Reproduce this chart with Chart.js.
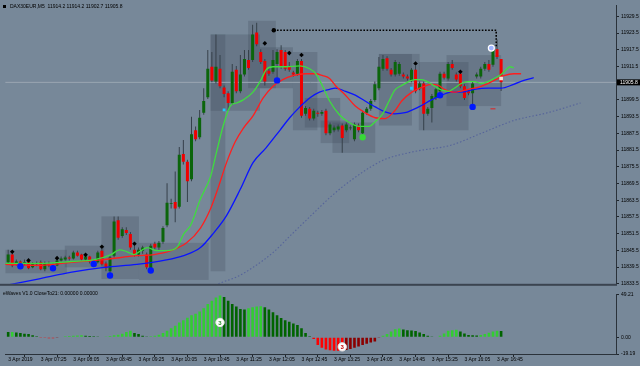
<!DOCTYPE html>
<html>
<head>
<meta charset="utf-8">
<script src="https://cdn.jsdelivr.net/npm/chart.js@4.4.1/dist/chart.umd.min.js"></script>
<style>
  html, body { margin: 0; padding: 0; background: #778899; }
  #wrap { position: relative; width: 640px; height: 366px; overflow: hidden; background: #778899; }
  canvas { position: absolute; left: 0; }
  #main { top: 0; }
  #sub { top: 289px; }
</style>
</head>
<body>
<div id="wrap">
  <canvas id="main" width="640" height="289"></canvas>
  <canvas id="sub" width="640" height="77"></canvas>
</div>
<script>
// DAX30EUR M5, 3 Apr 2019, one entry per bar from 06:45
const symbol = 'DAX30EUR,M5';
const opens = [11841.2, 11844.0, 11840.5, 11841.5, 11840.8, 11841.5, 11839.4, 11840.8, 11841.2, 11838.7,
  11840.8, 11840.1, 11840.1, 11841.9, 11842.2, 11842.9, 11842.6, 11844.7, 11844.0, 11842.2,
  11843.3, 11841.5, 11841.2, 11845.4, 11840.8, 11838.0, 11843.6, 11856.3, 11850.7, 11852.8,
  11851.4, 11845.7, 11844.0, 11845.4, 11844.0, 11838.7, 11847.9, 11846.5, 11848.6, 11854.5,
  11862.1, 11862.9, 11861.2, 11880.1, 11877.3, 11871.0, 11888.6, 11886.1, 11894.9, 11900.5,
  11911.4, 11906.1, 11910.7, 11904.0, 11901.9, 11898.4, 11910.3, 11902.6, 11908.6, 11913.8,
  11913.8, 11923.7, 11916.7, 11913.5, 11910.0, 11909.6, 11912.4, 11917.4, 11916.7, 11911.4,
  11909.3, 11908.9, 11913.5, 11894.5, 11896.3, 11892.8, 11894.9, 11894.5, 11895.6, 11887.5,
  11888.6, 11888.9, 11890.3, 11888.6, 11889.3, 11885.4, 11890.3, 11887.5, 11894.9, 11896.3,
  11899.5, 11903.7, 11910.7, 11914.5, 11910.3, 11908.6, 11908.9, 11908.6, 11907.9, 11906.5,
  11910.3, 11903.7, 11905.4, 11894.5, 11896.6, 11900.2, 11902.6, 11908.9, 11907.2, 11912.4,
  11908.6, 11908.9, 11904.4, 11902.6, 11901.9, 11907.9, 11907.9, 11910.7, 11912.4, 11912.1,
  11917.7, 11914.2];
const highs = [11845.7, 11844.7, 11842.2, 11841.9, 11842.2, 11841.7, 11841.2, 11841.5, 11841.9, 11841.5,
  11841.5, 11840.8, 11842.2, 11843.3, 11843.6, 11843.6, 11845.4, 11845.4, 11844.3, 11843.6,
  11843.6, 11842.2, 11845.4, 11846.1, 11841.5, 11843.6, 11857.7, 11857.7, 11853.8, 11853.8,
  11852.1, 11847.2, 11846.5, 11847.2, 11844.7, 11847.9, 11848.6, 11848.9, 11854.2, 11869.6,
  11864.0, 11873.8, 11882.6, 11885.1, 11878.0, 11893.5, 11890.0, 11895.9, 11903.7, 11917.4,
  11916.7, 11923.0, 11915.6, 11904.7, 11902.6, 11912.4, 11911.7, 11915.6, 11917.4, 11917.4,
  11926.5, 11927.2, 11917.7, 11914.2, 11911.0, 11917.4, 11917.7, 11919.1, 11917.4, 11913.1,
  11910.0, 11914.2, 11914.2, 11897.3, 11897.0, 11896.3, 11895.6, 11895.9, 11896.3, 11891.4,
  11890.3, 11890.7, 11891.0, 11891.4, 11890.3, 11891.4, 11891.0, 11895.6, 11897.0, 11899.8,
  11906.1, 11914.9, 11915.6, 11915.2, 11911.0, 11913.8, 11913.1, 11909.3, 11908.6, 11911.0,
  11911.7, 11906.1, 11906.1, 11897.0, 11901.6, 11904.0, 11909.6, 11909.6, 11913.1, 11913.8,
  11909.3, 11909.6, 11905.1, 11903.3, 11906.1, 11909.3, 11911.4, 11913.1, 11913.8, 11918.4,
  11921.2, 11914.2];
const lows = [11840.5, 11839.4, 11840.1, 11840.1, 11840.1, 11838.7, 11839.1, 11839.8, 11838.4, 11838.0,
  11839.4, 11839.1, 11839.8, 11841.5, 11841.9, 11841.9, 11842.2, 11843.3, 11841.9, 11841.5,
  11840.8, 11840.5, 11840.8, 11840.1, 11838.0, 11837.3, 11842.9, 11849.3, 11850.0, 11851.0,
  11845.7, 11843.3, 11843.3, 11844.3, 11838.7, 11838.4, 11845.7, 11845.7, 11847.9, 11853.8,
  11860.5, 11855.6, 11860.5, 11876.3, 11862.9, 11870.3, 11884.7, 11885.4, 11894.2, 11899.8,
  11905.8, 11905.4, 11903.7, 11900.5, 11895.6, 11897.7, 11901.9, 11901.9, 11907.9, 11910.3,
  11913.1, 11918.8, 11912.4, 11904.7, 11908.2, 11908.9, 11907.5, 11910.7, 11910.0, 11909.6,
  11907.9, 11908.2, 11893.1, 11893.8, 11892.1, 11892.1, 11893.5, 11893.8, 11886.8, 11886.8,
  11887.9, 11888.2, 11880.5, 11887.9, 11888.6, 11884.7, 11887.9, 11886.8, 11894.2, 11895.6,
  11898.8, 11903.0, 11910.0, 11910.0, 11907.9, 11907.9, 11908.2, 11907.2, 11906.5, 11905.8,
  11901.9, 11903.0, 11888.6, 11893.8, 11891.4, 11899.5, 11901.9, 11906.8, 11906.5, 11910.3,
  11906.1, 11903.7, 11899.5, 11901.2, 11897.7, 11907.2, 11907.2, 11910.0, 11909.6, 11911.4,
  11914.2, 11902.7];
const closes = [11844.0, 11840.1, 11841.5, 11840.8, 11841.2, 11839.1, 11840.5, 11840.5, 11838.7, 11840.8,
  11840.1, 11839.4, 11841.9, 11842.6, 11842.9, 11842.6, 11844.7, 11843.6, 11842.2, 11843.3,
  11841.5, 11841.2, 11844.7, 11840.5, 11839.1, 11842.9, 11855.9, 11850.0, 11853.1, 11851.7,
  11846.5, 11844.0, 11845.7, 11846.5, 11839.4, 11847.2, 11846.5, 11848.2, 11853.5, 11862.6,
  11862.4, 11860.5, 11879.8, 11877.3, 11870.3, 11887.2, 11885.4, 11893.1, 11899.1, 11910.7,
  11906.5, 11911.4, 11904.4, 11901.6, 11898.4, 11909.6, 11902.6, 11908.6, 11914.2, 11911.0,
  11923.0, 11919.5, 11913.1, 11906.1, 11908.9, 11913.8, 11916.7, 11911.4, 11910.7, 11910.3,
  11908.6, 11913.5, 11893.8, 11896.6, 11892.8, 11895.6, 11894.5, 11895.2, 11887.5, 11890.7,
  11889.6, 11890.0, 11885.8, 11890.7, 11889.6, 11890.7, 11888.6, 11894.9, 11896.3, 11899.1,
  11905.1, 11911.4, 11914.2, 11910.7, 11908.6, 11913.1, 11912.4, 11907.9, 11907.2, 11910.3,
  11902.6, 11905.4, 11894.5, 11896.3, 11900.9, 11903.3, 11908.9, 11907.5, 11912.4, 11911.0,
  11906.8, 11904.4, 11900.2, 11901.9, 11905.4, 11908.6, 11910.7, 11912.4, 11910.3, 11917.4,
  11914.9, 11905.8];

// Alligator lines (shifted forward) and slow MA, read as [bar, price]
const lips = [[-0.7, 11840.8], [7.3, 11840.8], [15.6, 11841.5], [21.2, 11842.2], [25.3, 11844.0], [27.3, 11845.7],
  [29.2, 11845.0], [30.9, 11844.0], [32.6, 11845.4], [34.1, 11846.5], [36.5, 11845.4], [38.9, 11845.4],
  [41.4, 11846.5], [43.1, 11851.4], [44.8, 11854.5], [47.2, 11864.0], [49.7, 11872.1], [51.1, 11880.5],
  [52.8, 11890.3], [54.5, 11897.3], [56.0, 11898.4], [57.7, 11899.5], [60.1, 11902.3], [62.1, 11906.8],
  [63.3, 11910.3], [65.0, 11911.4], [68.2, 11911.4], [71.6, 11911.7], [74.0, 11910.7], [75.5, 11908.9],
  [77.2, 11904.4], [78.9, 11899.1], [81.3, 11894.2], [83.7, 11891.4], [86.2, 11890.0], [88.6, 11890.0],
  [90.1, 11891.7], [91.8, 11894.2], [93.5, 11899.1], [94.9, 11903.0], [96.6, 11904.7], [98.3, 11906.1],
  [99.8, 11906.8], [101.5, 11906.8], [103.2, 11905.8], [104.7, 11904.4], [106.4, 11903.0], [108.1, 11902.6],
  [109.5, 11903.7], [111.2, 11905.4], [112.9, 11906.1], [114.4, 11906.1], [116.1, 11905.4], [117.8, 11906.1],
  [119.3, 11907.2], [121.0, 11908.6], [122.2, 11910.3], [123.2, 11911.4], [124.1, 11911.0]];
const teeth = [[-0.7, 11840.5], [7.3, 11840.1], [15.6, 11841.2], [23.6, 11842.2], [31.6, 11843.6], [35.8, 11844.0],
  [39.9, 11845.4], [43.8, 11848.2], [47.2, 11853.5], [49.7, 11860.5], [51.6, 11868.2], [53.6, 11877.0],
  [55.7, 11884.4], [57.7, 11889.3], [60.1, 11893.8], [62.6, 11900.2], [65.0, 11904.4], [67.4, 11906.8],
  [69.9, 11908.2], [73.0, 11908.9], [75.5, 11908.9], [77.2, 11908.2], [78.9, 11907.2], [80.3, 11904.7],
  [82.8, 11901.2], [85.2, 11897.3], [87.6, 11894.9], [90.1, 11893.1], [92.5, 11892.8], [94.9, 11895.6],
  [96.6, 11899.1], [99.1, 11902.3], [101.5, 11904.0], [103.9, 11905.1], [105.6, 11904.7], [107.1, 11903.3],
  [109.5, 11902.3], [113.0, 11903.3], [116.1, 11904.4], [119.3, 11906.5], [121.7, 11908.2], [124.1, 11908.9],
  [125.9, 11908.9]];
const jaw = [[-0.7, 11832.9], [7.3, 11835.2], [15.6, 11837.7], [23.6, 11839.4], [31.6, 11840.5], [38.2, 11841.9],
  [43.1, 11843.6], [47.2, 11846.5], [50.4, 11851.7], [53.6, 11858.0], [57.0, 11867.5], [60.1, 11877.0],
  [63.3, 11882.3], [66.7, 11888.6], [69.1, 11893.1], [71.6, 11897.0], [74.0, 11900.2], [76.4, 11902.3],
  [78.9, 11903.3], [80.3, 11903.7], [82.8, 11902.6], [85.2, 11901.2], [87.6, 11899.1], [90.1, 11897.0],
  [92.5, 11895.2], [94.9, 11894.5], [97.4, 11894.9], [100.8, 11897.0], [103.9, 11899.5], [106.4, 11901.2],
  [108.8, 11902.3], [111.2, 11902.3], [114.4, 11903.3], [117.8, 11903.7], [121.0, 11903.7], [124.1, 11905.1],
  [126.6, 11906.5], [129.0, 11907.5]];
const slowMa = [[49.2, 11832.1], [52.8, 11834.2], [56.0, 11835.9], [60.1, 11839.4], [65.0, 11844.7],
  [69.9, 11851.7], [74.7, 11858.5], [79.6, 11865.3], [84.5, 11871.0], [91.8, 11877.7], [99.1, 11880.8],
  [108.8, 11883.3], [116.1, 11887.5], [124.1, 11892.1], [132.4, 11894.9], [140.5, 11898.4]];

// signal markers [bar, price]
const upMarks = [[1, 11845.0], [5, 11841.9], [12, 11842.7], [19, 11843.9], [23, 11846.8], [31, 11847.9],
  [63, 11919.8], [69, 11916.3], [72, 11915.6], [100, 11912.6], [111, 11909.6]];
const downDots = [[3, 11839.8], [11, 11839.1], [21, 11840.6], [25, 11836.5], [35, 11838.3],
  [66, 11906.5], [106, 11901.2], [114, 11897.0]];
const limeDots = [[87, 11886.1]];
const cyanMarks = [[53, 11895.9], [99, 11903.7]];
const whiteRing = [[118.6, 11918.1]];
const pinkMark = [[121, 11907.2]];
const redDash = [[119, 11896.3]];
const resistance = [[65.2, 11924.5], [119.8, 11924.5], [119.8, 11918.4]];

// shaded range boxes [barFrom, barTo, priceTop, priceBottom]
const rangeBoxes = [[-0.7, 14.4, 11845.7, 11837.3], [13.9, 23.6, 11847.2, 11839.4], [22.9, 32.1, 11857.7, 11835.2],
  [32.1, 49.2, 11848.2, 11834.9], [49.7, 53.3, 11923.0, 11838.0], [49.7, 61.8, 11923.0, 11895.6],
  [58.9, 65.7, 11927.9, 11903.7], [61.8, 69.9, 11918.4, 11903.7], [69.9, 75.9, 11916.7, 11888.6],
  [72.8, 81.5, 11900.2, 11889.6], [76.7, 83.7, 11892.1, 11884.0], [79.6, 90.1, 11891.4, 11880.5],
  [91.0, 101.0, 11916.0, 11905.4], [91.0, 99.1, 11916.0, 11890.3], [100.8, 113.0, 11913.1, 11888.6],
  [107.6, 121.0, 11915.6, 11897.3]];

// eWaves histogram
const waves = [5.9, 5.9, 5.5, 4.8, 4.0, 3.7, 2.2, 1.1, -0.8, -1.0,
  -1.2, -1.3, -1.0, -0.6, 1.1, 1.5, 1.8, 1.9, 2.2, 1.8,
  1.5, 1.1, 0.7, 0.6, 0.7, 1.5, 2.2, 2.9, 4.0, 5.9,
  7.4, 4.8, 3.7, 1.8, 0.7, 1.1, 1.8, 2.9, 4.8, 7.4,
  10.3, 13.2, 16.9, 19.5, 22.4, 25.0, 26.9, 29.4, 33.1, 37.9,
  41.6, 45.3, 47.8, 46.0, 41.6, 37.9, 35.0, 32.4, 31.8, 33.1,
  34.2, 35.0, 35.3, 34.2, 31.6, 28.7, 25.0, 22.1, 19.5, 17.7,
  15.8, 14.0, 10.3, 4.8, 1.1, -2.0, -9.0, -12.0, -14.0, -15.0,
  -15.4, -15.6, -15.8, -14.7, -13.5, -12.0, -10.5, -9.0, -7.5, -6.0,
  -5.0, -0.8, 1.8, 3.7, 6.6, 9.2, 9.9, 8.8, 8.1, 7.7,
  7.0, 5.5, 3.7, 1.8, 0.7, 0.5, 1.8, 4.4, 7.4, 8.1,
  8.5, 6.6, 4.4, 2.6, 2.2, 2.0, 2.6, 3.7, 5.2, 6.6,
  7.4, 7.2];
const waveCounts = [[52, 16.9, '3'], [82, -11.0, '3']];

const priceTicks = [11929.5, 11923.5, 11917.5, 11911.5, 11905.5, 11899.5, 11893.5, 11887.5, 11881.5,
  11875.5, 11869.5, 11863.5, 11857.5, 11851.5, 11845.5, 11839.5, 11833.5];
const waveTicks = [49.21, 0, -19.19];
const tickBars = [0, 8, 16, 24, 32, 40, 48, 56, 64, 72, 80, 88, 96, 104, 112, 120];
const timeLabels = ['3 Apr 2019', '3 Apr 07:25', '3 Apr 08:05', '3 Apr 08:45', '3 Apr 09:25', '3 Apr 10:05',
  '3 Apr 10:45', '3 Apr 11:25', '3 Apr 12:05', '3 Apr 12:45', '3 Apr 13:25', '3 Apr 14:05',
  '3 Apr 14:45', '3 Apr 15:25', '3 Apr 16:05', '3 Apr 16:45'];

const FONT = 'Liberation Sans';
const X_MIN = -0.73, X_MAX = 149.2;
const last = closes.length - 1;
const lastPrice = closes[last];
const pts = arr => arr.map(([x, y]) => ({ x, y }));

const bull = '#0b650b', bear = '#f00000', wick = '#36404a';
const candleColor = opens.map((o, i) => closes[i] >= opens[i] ? bull : bear);

const boxPlugin = {
  id: 'boxes',
  beforeDatasetsDraw(chart) {
    const { ctx, chartArea: a, scales: { x, y } } = chart;
    ctx.save();
    ctx.beginPath();
    ctx.rect(a.left, a.top, a.width, a.height);
    ctx.clip();
    ctx.fillStyle = 'rgba(45,55,70,0.2)';
    rangeBoxes.forEach(([b0, b1, p0, p1]) => {
      const x0 = x.getPixelForValue(b0), x1 = x.getPixelForValue(b1);
      const y0 = y.getPixelForValue(p0), y1 = y.getPixelForValue(p1);
      ctx.fillRect(x0, y0, x1 - x0, y1 - y0);
    });
    ctx.restore();
  }
};

const mainOverlay = {
  id: 'mainOverlay',
  afterDraw(chart) {
    const { ctx, chartArea: a, scales: { y } } = chart;
    ctx.save();
    ctx.font = '5px "' + FONT + '"';
    ctx.textBaseline = 'middle';
    ctx.fillStyle = '#000';
    ctx.fillRect(3, 5, 3, 3);
    const ohlc = [opens[last], highs[last], lows[last], closes[last]].map(v => v.toFixed(1)).join(' ');
    ctx.fillText(symbol + '  ' + ohlc, 10, 6.5);
    // window separator
    ctx.fillStyle = '#3b4450';
    ctx.fillRect(0, a.bottom, a.right + 1, 2);
    // last price tag
    const py = y.getPixelForValue(lastPrice);
    ctx.fillStyle = '#000';
    ctx.fillRect(a.right + 1, py - 3, 23, 6);
    ctx.fillStyle = '#fff';
    ctx.fillText(lastPrice.toFixed(1), a.right + 4, py + 0.5);
    ctx.restore();
  }
};

const subOverlay = {
  id: 'subOverlay',
  afterDraw(chart) {
    const { ctx, scales: { x, y } } = chart;
    ctx.save();
    ctx.font = '5px "' + FONT + '"';
    ctx.textBaseline = 'middle';
    ctx.fillStyle = '#000';
    ctx.fillText('eWaves V1.0 CloseTo21: 0.00000 0.00000', 3, 5);
    ctx.font = 'bold 6px "' + FONT + '"';
    ctx.textAlign = 'center';
    waveCounts.forEach(([b, v, t]) => {
      ctx.fillStyle = v > 0 ? '#2f8f2f' : '#c00000';
      ctx.fillText(t, x.getPixelForValue(b), y.getPixelForValue(v) + 0.5);
    });
    ctx.restore();
  }
};

const tickFont = { family: FONT, size: 5 };
const rightAxis = {
  position: 'right',
  afterFit: s => { s.width = 24; s.paddingTop = 0; s.paddingBottom = 0; },
  ticks: { font: tickFont, color: '#000', padding: 2 },
  grid: { display: true, drawOnChartArea: false, drawTicks: true, tickLength: 3, color: '#1e252c' },
  border: { display: true, color: '#2a323a', width: 1 }
};

new Chart(document.getElementById('main'), {
  type: 'bar',
  data: {
    datasets: [
      { type: 'line', data: pts(upMarks), showLine: false, pointStyle: 'rectRot', pointRadius: 2.3,
        pointBackgroundColor: '#000', pointBorderWidth: 0, order: 1 },
      { type: 'line', data: pts(downDots), showLine: false, pointStyle: 'circle', pointRadius: 3.2,
        pointBackgroundColor: '#0018ff', pointBorderWidth: 0, order: 1 },
      { type: 'line', data: pts(limeDots), showLine: false, pointStyle: 'circle', pointRadius: 3.2,
        pointBackgroundColor: '#38d838', pointBorderWidth: 0, order: 1 },
      { type: 'line', data: pts(cyanMarks), showLine: false, pointStyle: 'rect', pointRadius: 2,
        pointBackgroundColor: '#1ec8ff', pointBorderWidth: 0, order: 1 },
      { type: 'line', data: pts(whiteRing), showLine: false, pointStyle: 'circle', pointRadius: 3,
        pointBackgroundColor: '#9fb4ff', pointBorderColor: '#ffffff', pointBorderWidth: 1.2, order: 1 },
      { type: 'line', data: pts(pinkMark), showLine: false, pointStyle: 'rect', pointRadius: 2.6,
        pointBackgroundColor: '#f3dcd6', pointBorderWidth: 0, order: 1 },
      { type: 'line', data: pts(redDash), showLine: false, pointStyle: 'line', pointRadius: 2.5,
        pointBorderColor: '#e02020', pointBorderWidth: 1, order: 1 },
      { type: 'line', data: pts(resistance), borderColor: '#000', borderWidth: 1.6, borderDash: [1.6, 1.6],
        pointRadius: [2.2, 0, 0], pointBackgroundColor: '#000', pointBorderWidth: 0, order: 2 },
      { type: 'line', data: pts(lips), borderColor: '#3fdc3f', borderWidth: 1.3, pointRadius: 0,
        cubicInterpolationMode: 'monotone', order: 3 },
      { type: 'line', data: pts(teeth), borderColor: '#ff1e1e', borderWidth: 1.3, pointRadius: 0,
        cubicInterpolationMode: 'monotone', order: 3 },
      { type: 'line', data: pts(jaw), borderColor: '#0a14ff', borderWidth: 1.3, pointRadius: 0,
        cubicInterpolationMode: 'monotone', order: 3 },
      { type: 'line', data: pts(slowMa), borderColor: '#56649a', borderWidth: 1.1, borderDash: [1.5, 2],
        pointRadius: 0, cubicInterpolationMode: 'monotone', order: 3 },
      { type: 'line', data: [{ x: X_MIN, y: lastPrice }, { x: X_MAX, y: lastPrice }], borderColor: '#9aa6b2',
        borderWidth: 1, pointRadius: 0, order: 6 },
      { data: opens.map((o, i) => ({ x: i, y: [o, closes[i]] })), backgroundColor: candleColor,
        borderWidth: 0, barThickness: 3, inflateAmount: 0, grouped: false, order: 4 },
      { data: lows.map((l, i) => ({ x: i, y: [l, highs[i]] })), backgroundColor: wick,
        borderWidth: 0, barThickness: 1, inflateAmount: 0, grouped: false, order: 5 }
    ]
  },
  options: {
    responsive: false,
    animation: false,
    devicePixelRatio: 1,
    events: [],
    layout: { padding: { top: 2, bottom: 2, left: 0, right: 0 } },
    plugins: { legend: { display: false }, tooltip: { enabled: false } },
    scales: {
      x: { type: 'linear', min: X_MIN, max: X_MAX, offset: false, display: false },
      y: Object.assign({}, rightAxis, {
        min: 11833.5, max: 11933.5,
        afterBuildTicks: s => { s.ticks = priceTicks.map(v => ({ value: v })); },
        ticks: Object.assign({}, rightAxis.ticks, { callback: v => v.toFixed(1) })
      })
    }
  },
  plugins: [boxPlugin, mainOverlay]
});

new Chart(document.getElementById('sub'), {
  type: 'bar',
  data: {
    datasets: [
      { type: 'line', data: waveCounts.map(([x, y]) => ({ x, y })), showLine: false, pointStyle: 'circle',
        pointRadius: 4.2, pointBackgroundColor: '#ffffff', pointBorderColor: '#e6e6e6', pointBorderWidth: 1, order: 1 },
      { data: waves.map((v, i) => ({ x: i, y: v })),
        backgroundColor: waves.map((v, i) => {
          const rising = i > 0 && v >= waves[i - 1];
          if (v >= 0) return rising ? '#32cd32' : '#006400';
          return rising ? '#8b0000' : '#ff0000';
        }),
        borderWidth: 0, barThickness: 2.6, inflateAmount: 0, grouped: false, order: 2 }
    ]
  },
  options: {
    responsive: false,
    animation: false,
    devicePixelRatio: 1,
    events: [],
    layout: { padding: { top: 2, bottom: 0, left: 0, right: 0 } },
    plugins: { legend: { display: false }, tooltip: { enabled: false } },
    scales: {
      x: {
        type: 'linear', min: X_MIN, max: X_MAX, offset: false, position: 'bottom',
        afterBuildTicks: s => { s.ticks = tickBars.map(v => ({ value: v })); },
        afterFit: s => { s.height = 12; s.paddingLeft = 0; s.paddingRight = 0; },
        ticks: { font: tickFont, color: '#000', padding: 0, align: 'start', maxRotation: 0, autoSkip: false,
          callback: (v, i) => timeLabels[i] },
        grid: { display: true, drawOnChartArea: false, drawTicks: true, tickLength: 3, color: '#1e252c' },
        border: { display: true, color: '#2a323a', width: 1 }
      },
      y: Object.assign({}, rightAxis, {
        min: -19.19, max: 49.21,
        afterBuildTicks: s => { s.ticks = waveTicks.map(v => ({ value: v })); },
        ticks: Object.assign({}, rightAxis.ticks, { callback: v => v.toFixed(2) })
      })
    }
  },
  plugins: [subOverlay]
});
</script>
</body>
</html>
